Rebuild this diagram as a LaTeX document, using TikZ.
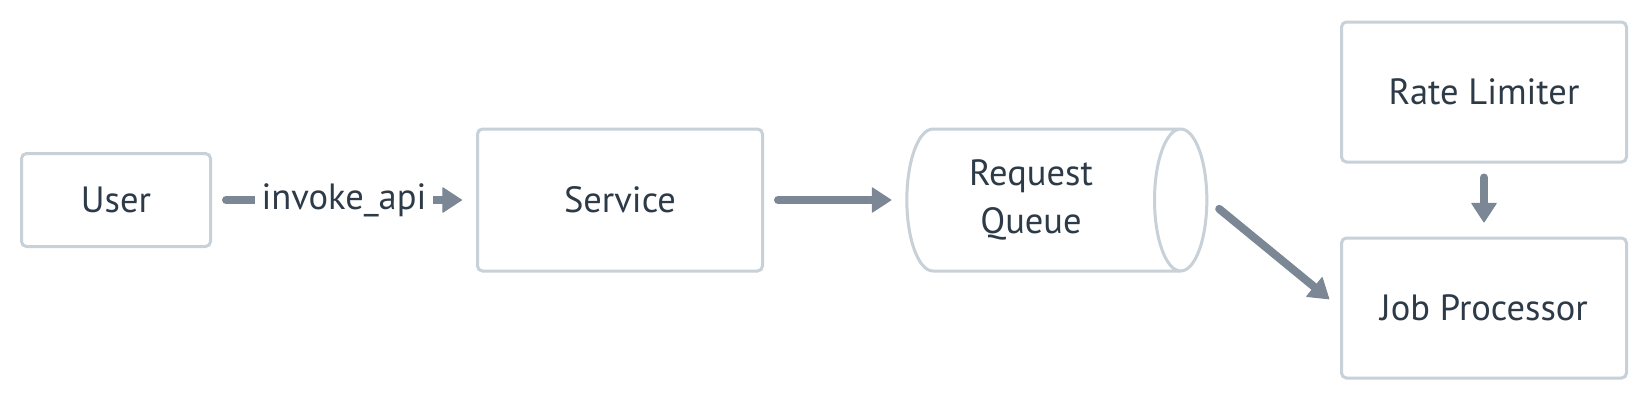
\documentclass[tikz,border=0pt]{standalone}
\usepackage{fontspec}
\setmainfont{PT Sans}
\usetikzlibrary{arrows.meta,shapes.geometric,positioning}
\definecolor{boxline}{HTML}{C8D0D8}
\definecolor{flowline}{HTML}{7B8794}
\definecolor{labeltext}{HTML}{2D3A48}
\tikzstyle{block}=[rectangle,draw=boxline,line width=3pt,rounded corners=5pt,fill=white,text=labeltext,inner sep=0pt,font=\fontsize{36.5}{48}\selectfont]
\tikzstyle{queue}=[cylinder,draw=boxline,line width=3pt,aspect=0.65,fill=white,text=labeltext,align=center,inner sep=0pt,minimum width=142pt,minimum height=300pt,font=\fontsize{36.5}{48}\selectfont]
\tikzstyle{flow} = [draw=flowline,line width=8pt,line cap=round,-{Triangle[length=20pt,width=26pt,line width=1pt,round]},shorten >=14pt,shorten <=14pt]
\tikzstyle{flowlabel} = [fill=white,text=labeltext,inner xsep=7pt,inner ysep=2pt,font=\fontsize{36.5}{42}\selectfont]

\begin{document}
\begin{tikzpicture}[x=1pt,y=-1pt]

    % page
    \fill[white] (0,0) rectangle (1648,400);
    \useasboundingbox (0,0) rectangle (1648,400);

    % First we draw the boxes
    \foreach \pos/\name/\label/\boxw/\boxh in {{(116,200)/user/User/189pt/93pt}, {(620,200)/service/Service/285pt/142pt}, {(1484,92)/rate/Rate Limiter/285pt/140pt}, {(1484,308)/job/Job Processor/285pt/140pt}}
        \node[block,minimum width=\boxw,minimum height=\boxh] (\name) at \pos {\label};

    % the queue, text pushed left of the cap
    \node[queue] (queue) at (1043,200) {Request\hspace*{24pt}\\Queue\hspace*{24pt}};

    % Connect boxes with arrows
    \path[flow] (user) -- node[flowlabel] {invoke\_api} (service);
    \foreach \source/ \dest in {service/queue, queue.east/job.west, rate/job}
          \path[flow] (\source) -- (\dest);

\end{tikzpicture}
\end{document}
